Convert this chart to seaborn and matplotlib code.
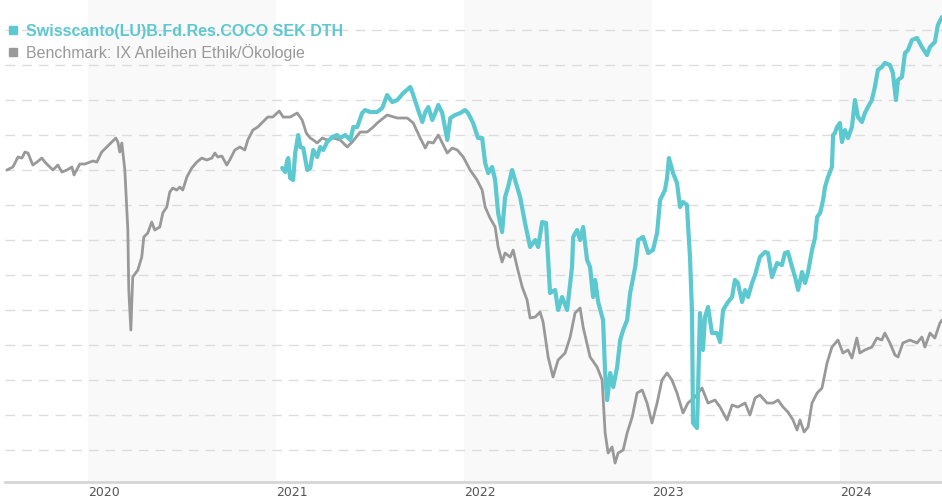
import pandas as pd
import numpy as np
import matplotlib
matplotlib.use("Agg")
import matplotlib.pyplot as plt
from matplotlib.lines import Line2D
import seaborn as sns

# ==========================================
# DATA (decimal years, performance in %)
# ==========================================
bench_t = [2019.569, 2019.601, 2019.628, 2019.649, 2019.665, 2019.681, 2019.707, 2019.729, 2019.755, 2019.771,
           2019.798, 2019.814, 2019.840, 2019.862, 2019.888, 2019.915, 2019.926, 2019.957, 2019.984, 2020.027,
           2020.048, 2020.074, 2020.101, 2020.128, 2020.149, 2020.160, 2020.170, 2020.181, 2020.197, 2020.213,
           2020.218, 2020.229, 2020.234, 2020.239, 2020.266, 2020.287, 2020.298, 2020.319, 2020.340, 2020.356,
           2020.383, 2020.399, 2020.420, 2020.436, 2020.452, 2020.473, 2020.489, 2020.505, 2020.527, 2020.553,
           2020.580, 2020.606, 2020.633, 2020.660, 2020.676, 2020.691, 2020.713, 2020.739, 2020.755, 2020.782,
           2020.809, 2020.835, 2020.851, 2020.878, 2020.904, 2020.931, 2020.957, 2020.984, 2021.016, 2021.037,
           2021.074, 2021.112, 2021.138, 2021.160, 2021.181, 2021.197, 2021.218, 2021.245, 2021.271, 2021.303,
           2021.340, 2021.378, 2021.404, 2021.447, 2021.484, 2021.516, 2021.537, 2021.590, 2021.644, 2021.697,
           2021.729, 2021.766, 2021.793, 2021.809, 2021.835, 2021.862, 2021.883, 2021.910, 2021.936, 2021.963,
           2021.995, 2022.032, 2022.069, 2022.096, 2022.112, 2022.138, 2022.165, 2022.181, 2022.202, 2022.218,
           2022.245, 2022.261, 2022.282, 2022.309, 2022.335, 2022.351, 2022.378, 2022.404, 2022.420, 2022.447,
           2022.473, 2022.500, 2022.537, 2022.564, 2022.590, 2022.617, 2022.633, 2022.670, 2022.707, 2022.734,
           2022.750, 2022.766, 2022.787, 2022.803, 2022.819, 2022.846, 2022.867, 2022.894, 2022.920, 2022.947,
           2022.973, 2023.000, 2023.027, 2023.053, 2023.080, 2023.106, 2023.133, 2023.165, 2023.191, 2023.229,
           2023.266, 2023.298, 2023.335, 2023.362, 2023.399, 2023.426, 2023.457, 2023.495, 2023.521, 2023.548,
           2023.574, 2023.612, 2023.644, 2023.670, 2023.697, 2023.723, 2023.750, 2023.771, 2023.787, 2023.809,
           2023.830, 2023.851, 2023.878, 2023.904, 2023.931, 2023.957, 2023.989, 2024.016, 2024.043, 2024.064,
           2024.090, 2024.106, 2024.133, 2024.170, 2024.197, 2024.223, 2024.239, 2024.266, 2024.293, 2024.309,
           2024.335, 2024.372, 2024.410, 2024.436, 2024.452, 2024.479, 2024.505, 2024.532, 2024.543]
bench_v = [0.0, 0.43, 1.86, 1.71, 2.57, 2.43, 0.71, 1.14, 1.71, 1.14,
           0.43, 0.0, 0.71, -0.29, 0.0, 0.43, -0.71, 0.86, 0.86, 1.29,
           1.14, 2.57, 3.29, 4.0, 4.57, 4.0, 2.57, 3.86, 0.0, -8.57,
           -17.14, -22.86, -19.0, -15.29, -14.29, -12.43, -9.57, -9.0, -7.43, -8.57,
           -8.14, -6.14, -5.29, -3.14, -2.57, -2.86, -2.43, -2.86, -1.0, 0.29,
           1.14, 1.71, 1.43, 1.71, 2.43, 1.86, 2.0, 0.71, 1.43, 2.86,
           3.29, 2.86, 4.29, 5.71, 6.14, 6.86, 7.57, 7.57, 8.43, 7.57,
           7.57, 8.14, 7.14, 5.29, 4.57, 4.29, 3.86, 4.57, 4.29, 4.57,
           4.29, 3.29, 4.0, 5.43, 5.43, 6.14, 6.71, 7.86, 7.43, 7.43,
           6.71, 4.57, 3.14, 4.0, 3.86, 5.0, 3.86, 2.43, 3.14, 2.86,
           1.86, 0.0, -1.43, -2.86, -5.29, -6.86, -8.14, -11.0, -13.14, -11.86,
           -12.43, -11.43, -13.86, -16.71, -18.57, -21.14, -21.0, -20.29, -21.71, -26.71,
           -29.57, -27.14, -26.14, -23.86, -20.43, -19.71, -22.43, -26.71, -28.14, -30.0,
           -37.57, -40.43, -39.57, -41.86, -40.43, -40.0, -37.57, -35.29, -31.86, -31.43,
           -33.29, -36.14, -33.29, -30.0, -29.0, -30.0, -31.86, -34.71, -33.29, -32.43,
           -31.14, -33.29, -32.86, -33.86, -35.71, -33.57, -33.86, -33.29, -35.0, -32.57,
           -32.14, -33.29, -33.29, -32.86, -33.86, -34.57, -35.71, -37.14, -35.71, -37.43,
           -36.71, -33.29, -31.86, -31.14, -27.57, -25.29, -24.29, -26.14, -25.71, -26.86,
           -24.0, -26.14, -25.71, -25.29, -24.0, -24.29, -23.29, -24.71, -26.43, -26.71,
           -24.71, -24.29, -24.71, -23.86, -25.29, -23.29, -24.0, -21.86, -21.43]

fund_t = [2021.032, 2021.048, 2021.059, 2021.064, 2021.074, 2021.090, 2021.101, 2021.117, 2021.128, 2021.144,
          2021.165, 2021.181, 2021.197, 2021.218, 2021.234, 2021.250, 2021.271, 2021.298, 2021.324, 2021.340,
          2021.367, 2021.394, 2021.410, 2021.431, 2021.457, 2021.473, 2021.500, 2021.537, 2021.564, 2021.590,
          2021.617, 2021.644, 2021.676, 2021.713, 2021.729, 2021.755, 2021.777, 2021.793, 2021.809, 2021.830,
          2021.846, 2021.862, 2021.883, 2021.910, 2021.926, 2021.952, 2021.979, 2022.005, 2022.021, 2022.048,
          2022.074, 2022.096, 2022.112, 2022.128, 2022.149, 2022.165, 2022.181, 2022.202, 2022.218, 2022.234,
          2022.255, 2022.271, 2022.298, 2022.324, 2022.351, 2022.378, 2022.394, 2022.415, 2022.436, 2022.457,
          2022.484, 2022.500, 2022.521, 2022.548, 2022.574, 2022.580, 2022.601, 2022.617, 2022.633, 2022.654,
          2022.670, 2022.686, 2022.697, 2022.713, 2022.739, 2022.750, 2022.761, 2022.777, 2022.793, 2022.814,
          2022.830, 2022.846, 2022.867, 2022.883, 2022.910, 2022.926, 2022.952, 2022.979, 2023.005, 2023.027,
          2023.043, 2023.069, 2023.080, 2023.090, 2023.112, 2023.133, 2023.149, 2023.165, 2023.186, 2023.191,
          2023.202, 2023.213, 2023.218, 2023.239, 2023.245, 2023.255, 2023.271, 2023.282, 2023.298, 2023.319,
          2023.346, 2023.362, 2023.378, 2023.404, 2023.426, 2023.441, 2023.457, 2023.479, 2023.495, 2023.511,
          2023.532, 2023.548, 2023.574, 2023.601, 2023.617, 2023.638, 2023.665, 2023.691, 2023.707, 2023.723,
          2023.745, 2023.761, 2023.777, 2023.798, 2023.814, 2023.830, 2023.851, 2023.867, 2023.878, 2023.894,
          2023.910, 2023.920, 2023.936, 2023.957, 2023.963, 2023.973, 2023.984, 2024.000, 2024.011, 2024.027,
          2024.043, 2024.064, 2024.080, 2024.096, 2024.117, 2024.133, 2024.149, 2024.170, 2024.186, 2024.202,
          2024.223, 2024.239, 2024.266, 2024.282, 2024.298, 2024.309, 2024.330, 2024.346, 2024.362, 2024.383,
          2024.410, 2024.436, 2024.463, 2024.479, 2024.505, 2024.521, 2024.543]
fund_v = [0.29, -0.29, 1.43, 1.71, -1.14, -1.43, 2.43, 5.0, 3.29, 3.14,
          0.0, 0.29, 2.86, 1.86, 3.29, 2.86, 4.0, 4.71, 5.0, 4.57,
          5.0, 4.29, 6.14, 6.14, 8.14, 8.57, 8.29, 8.29, 8.86, 10.71,
          9.71, 10.0, 11.0, 11.86, 10.71, 8.57, 6.86, 8.29, 9.0, 7.14,
          8.14, 9.29, 8.14, 4.29, 7.43, 7.86, 8.14, 8.57, 8.14, 6.71,
          4.57, 4.57, 1.0, -0.43, 0.43, -1.43, -6.14, -8.86, -3.86, -2.43,
          0.0, -1.43, -3.86, -7.57, -11.0, -10.0, -11.0, -7.43, -7.57, -17.57,
          -17.14, -20.0, -18.14, -20.0, -13.86, -9.57, -8.57, -10.0, -8.14, -12.86,
          -13.86, -18.14, -15.71, -18.86, -21.43, -29.0, -32.86, -29.0, -31.0, -28.14,
          -24.29, -22.86, -21.43, -17.57, -13.86, -10.0, -9.57, -11.86, -11.43, -9.0,
          -4.29, -2.86, -1.14, 1.71, -0.43, -1.86, -5.29, -4.57, -5.0, -7.57,
          -12.43, -20.43, -36.14, -36.86, -31.43, -20.43, -25.71, -21.0, -19.57, -23.29,
          -23.29, -24.57, -20.0, -18.86, -18.14, -15.71, -16.14, -18.86, -17.14, -18.14,
          -16.14, -15.0, -12.43, -11.71, -11.86, -15.29, -13.29, -13.57, -11.86, -11.71,
          -13.86, -15.29, -17.14, -14.57, -16.14, -14.57, -11.43, -9.71, -6.71, -6.14,
          -4.29, -2.43, -1.0, 0.43, 5.0, 5.29, 6.14, 6.71, 4.0, 5.71,
          4.57, 6.14, 10.0, 7.57, 6.86, 8.14, 9.0, 10.0, 11.86, 14.29,
          14.71, 15.29, 15.0, 13.86, 10.0, 12.86, 13.29, 16.71, 17.14, 18.57,
          18.86, 17.57, 16.43, 17.57, 18.29, 20.71, 21.86]

fund_name = "Swisscanto(LU)B.Fd.Res.COCO SEK DTH"
bench_name = "Benchmark: IX Anleihen Ethik/Ökologie"
years = [2020, 2021, 2022, 2023, 2024]


def to_date(t):
    y = int(np.floor(t))
    start = pd.Timestamp(f"{y}-01-01")
    return start + pd.Timedelta(days=(t - y) * 365.25)


df_bench = pd.DataFrame({"date": [to_date(t) for t in bench_t], "value": bench_v})
df_fund = pd.DataFrame({"date": [to_date(t) for t in fund_t], "value": fund_v})

TEAL = "#5cc8cf"
GRAY = "#999999"

# ==========================================
# PLOT
# ==========================================
sns.set_theme(style="white")
plt.rcParams["font.family"] = ["Liberation Sans", "DejaVu Sans"]

fig = plt.figure(figsize=(9.42, 5.0), dpi=100)
ax = fig.add_axes([5 / 942, 18 / 500, 937 / 942, 482 / 500])

# alternating year bands
for yr in years[::2]:
    ax.axvspan(pd.Timestamp(f"{yr}-01-01"), pd.Timestamp(f"{yr + 1}-01-01"),
               color="#f9f9f9", zorder=0, lw=0)

sns.lineplot(data=df_bench, x="date", y="value", ax=ax, color=GRAY, lw=2.0, zorder=3)
sns.lineplot(data=df_fund, x="date", y="value", ax=ax, color=TEAL, lw=3.0, zorder=4)

ax.set_xlim(to_date(2019.559), to_date(2024.543))
ax.set_ylim(-44.57, 24.29)
ax.set_yticks(np.arange(-40, 21, 5))
ax.yaxis.grid(True, ls=(0, (7, 5)), color="#dddddd", lw=1.0, zorder=1)
ax.xaxis.grid(False)
ax.tick_params(axis="y", left=False, labelleft=False)
ax.set_xlabel("")
ax.set_ylabel("")

ax.set_xticks([pd.Timestamp(f"{y}-01-01") for y in years])
ax.set_xticklabels([str(y) for y in years], fontsize=9, color="#555555",
                   family=["DejaVu Sans"], ha="left")
ax.tick_params(axis="x", length=0, pad=3)

for s in ["left", "right", "top"]:
    ax.spines[s].set_visible(False)
ax.spines["bottom"].set_color("#d6d6d6")
ax.spines["bottom"].set_linewidth(2)

handles = [Line2D([], [], ls="none", marker="s", markersize=6, color=TEAL),
           Line2D([], [], ls="none", marker="s", markersize=6, color=GRAY)]
leg = ax.legend(handles, [fund_name, bench_name], loc="upper left",
                bbox_to_anchor=(0.004, 0.951), frameon=False, fontsize=11.5,
                handlelength=0.55, handletextpad=0.55, labelspacing=0.33,
                borderaxespad=0, borderpad=0)
txt = leg.get_texts()
txt[0].set_color(TEAL)
txt[0].set_fontweight("bold")
txt[1].set_color(GRAY)

fig.savefig("out.png", dpi=100)
